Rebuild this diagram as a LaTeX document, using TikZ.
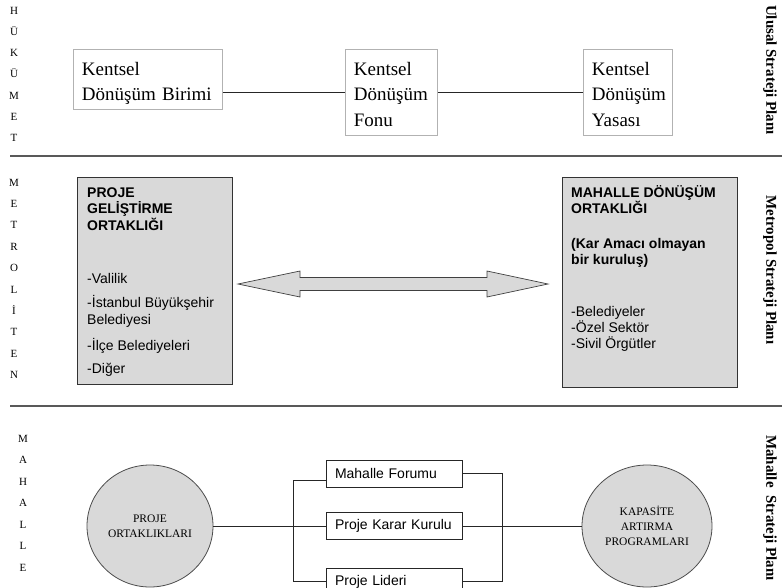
\documentclass[tikz,border=0pt]{standalone}
\usepackage{fontspec}
\setmainfont{Liberation Serif}
\setsansfont{Liberation Sans}
\usetikzlibrary{shapes.geometric}
% struts that fix the first-line top and last-line bottom of the upper boxes
\newcommand\boxtopstrut{\rule{0pt}{21pt}}
\newcommand\boxbotstrut{\rule[-4pt]{0pt}{4pt}}
\begin{document}
\begin{tikzpicture}[x=1pt,y=-1pt,
  sepline/.style={draw=black!65, line width=1.3pt},
  vletter/.style={anchor=base, inner sep=0, font=\fontsize{11}{13}\selectfont},
  planlabel/.style={inner sep=0, rotate=-90, font=\fontsize{15}{18}\selectfont\bfseries},
  topbox/.style={draw=black!30, line width=0.8pt, anchor=north west, inner xsep=8.5pt,
    inner ysep=0pt, align=left, font=\fontsize{19}{25.5}\selectfont},
  link/.style={draw=black!85, line width=0.8pt},
  graybox/.style={draw=black!80, fill=black!15, line width=0.8pt, anchor=north west,
    inner sep=0},
  gtext/.style={anchor=base west, inner sep=0, font=\sffamily\fontsize{14}{16}\selectfont},
  gbold/.style={gtext, font=\sffamily\bfseries\fontsize{14}{16}\selectfont},
  bubble/.style={ellipse, draw=black!70, fill=black!15, line width=0.8pt, inner sep=0,
    align=center, font=\fontsize{11.5}{15}\selectfont},
  smallbox/.style={draw=black!85, line width=0.8pt, minimum width=136pt, minimum height=27pt,
    text width=118pt, inner xsep=9pt, inner ysep=0pt, align=left,
    font=\sffamily\fontsize{14}{16}\selectfont}
]
\useasboundingbox (0,0) rectangle (782,587);
\clip (0,0) rectangle (782,587);

% level separators
\draw[sepline] (10,156) -- (782,156);
\draw[sepline] (10,406) -- (782,406);

% vertical level names on the left
\foreach \c [count=\i] in {H,Ü,K,Ü,M,E,T}
  \node[vletter] (hk\i) at (14,{14+21.3*(\i-1)}) {\c};
\foreach \c [count=\i] in {M,E,T,R,O,L,İ,T,E,N}
  \node[vletter] (mt\i) at (14,{186+21.4*(\i-1)}) {\c};
\foreach \c [count=\i] in {M,A,H,A,L,L,E}
  \node[vletter] (mh\i) at (23,{442+21.5*(\i-1)}) {\c};

% plan names on the right
\node[planlabel] (pu) at (770,70) {Ulusal Strateji Planı};
\node[planlabel] (pm) at (770,270) {Metropol Strateji Planı};
\node[planlabel] (ph) at (770,508) {Mahalle\ \ Strateji Planı};

% national level
\node[topbox, text width=132pt, minimum height=60pt] (b1) at (73,49)
  {\boxtopstrut Kentsel\\Dönüşüm Birimi\boxbotstrut};
\node[topbox, text width=75pt, minimum height=86pt] (b2) at (345,49)
  {\boxtopstrut Kentsel\\Dönüşüm\\Fonu\boxbotstrut};
\node[topbox, text width=72pt, minimum height=86pt] (b3) at (583,49)
  {\boxtopstrut Kentsel\\Dönüşüm\\Yasası\boxbotstrut};
\draw[link] (b2.west -| b1.east) -- (b2.west);
\draw[link] (b2.east) -- (b3.west);

% metropolitan level
\node[graybox, minimum width=155pt, minimum height=207pt] (gl) at (77,177) {};
\node[graybox, minimum width=175pt, minimum height=210pt] (gr) at (562,177) {};

\node[gbold] (gl1) at (87,197) {PROJE};
\node[gbold] (gl2) at (87,213) {GELİŞTİRME};
\node[gbold] (gl3) at (87,230) {ORTAKLIĞI};
\node[gtext] (gl4) at (87,283) {-Valilik};
\node[gtext] (gl5) at (87,307) {-İstanbul Büyükşehir};
\node[gtext] (gl6) at (87,324) {Belediyesi};
\node[gtext] (gl7) at (87,350) {-İlçe Belediyeleri};
\node[gtext] (gl8) at (87,373) {-Diğer};

\node[gbold] (gr1) at (571,197) {MAHALLE DÖNÜŞÜM};
\node[gbold] (gr2) at (571,213) {ORTAKLIĞI};
\node[gbold] (gr3) at (571,248) {(Kar Amacı olmayan};
\node[gbold] (gr4) at (571,264) {bir kuruluş)};
\node[gtext] (gr5) at (571,316) {-Belediyeler};
\node[gtext] (gr6) at (571,332) {-Özel Sektör};
\node[gtext] (gr7) at (571,348) {-Sivil Örgütler};

% two-way partnership arrow
\draw[draw=black!75, fill=black!15, line width=0.7pt]
  (238,284) -- (300,271) -- (300,277.5) -- (487,277.5) -- (487,271) -- (548,284)
  -- (487,297) -- (487,290.5) -- (300,290.5) -- (300,297) -- cycle;

% neighbourhood level
\node[bubble, minimum width=126pt, minimum height=122pt] (lc) at (150,526) {PROJE\\ORTAKLIKLARI};
\node[bubble, minimum width=130pt, minimum height=122pt] (rc) at (647,526) {KAPASİTE\\ARTIRMA\\PROGRAMLARI};

\node[smallbox] (mf) at (394,473.5) {Mahalle Forumu};
\node[smallbox] (pk) at (394,526) {Proje Karar Kurulu};
\node[smallbox] (pl) at (394,581.5) {Proje Lideri};

\draw[link] (lc.east) -- (pk.west);
\draw[link] (pk.east) -- (rc.west);

\coordinate (lbt) at (293,480);
\coordinate (lbb) at (293,581);
\draw[link] (lbt -| mf.west) -- (lbt) -- (lbb) -- (lbb -| pl.west);
\coordinate (rbt) at (502,473.5);
\coordinate (rbb) at (502,581);
\draw[link] (mf.east) -- (rbt) -- (rbb) -- (rbb -| pl.east);
\end{tikzpicture}
\end{document}
